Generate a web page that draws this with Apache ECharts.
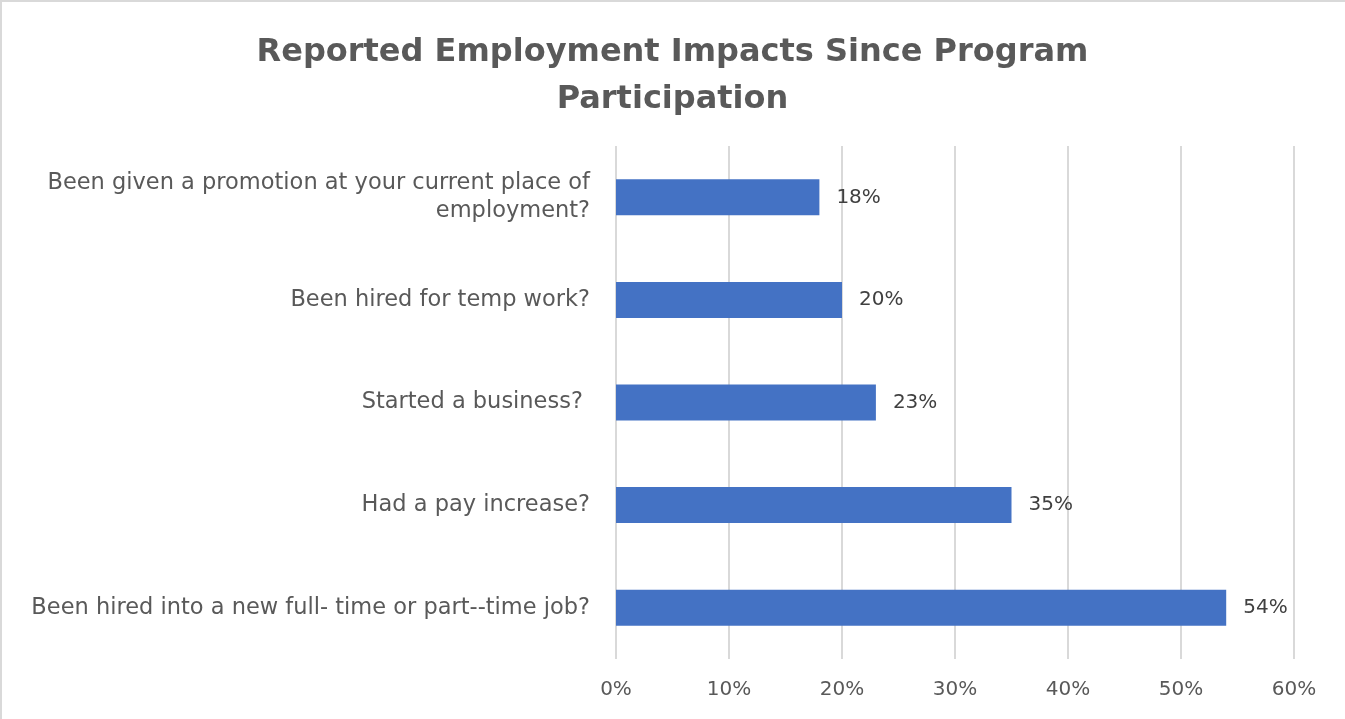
<!DOCTYPE html>
<html>
<head>
<meta charset="utf-8">
<script src="https://cdn.jsdelivr.net/npm/echarts@6/dist/echarts.min.js"></script>
<style>
  html, body { margin: 0; padding: 0; background: #ffffff; }
  #chart { width: 1345px; height: 719px; }
</style>
</head>
<body>
<div id="chart"></div>
<script>
// Survey questions, listed top to bottom
const categories = [
  'Been given a promotion at your current place of\nemployment?',
  'Been hired for temp work?',
  'Started a business? ',
  'Had a pay increase?',
  'Been hired into a new full- time or part--time job?'
];
// Share of respondents answering yes (%)
const shares = [18, 20, 23, 35, 54];
// Horizontal axis ticks (%)
const axisTicks = [0, 10, 20, 30, 40, 50, 60];

const FONT = '"DejaVu Sans", sans-serif';
const chart = echarts.init(document.getElementById('chart'), null, { renderer: 'canvas' });

chart.setOption({
  backgroundColor: '#ffffff',
  animation: false,
  title: {
    text: 'Reported Employment Impacts Since Program\nParticipation',
    left: 'center',
    top: 24,
    textStyle: {
      fontFamily: FONT,
      fontWeight: 'bold',
      fontSize: 32,
      lineHeight: 47,
      color: '#595959'
    }
  },
  graphic: [{
    type: 'rect',
    shape: { x: 1, y: 1, width: 1400, height: 800 },
    style: { fill: 'none', stroke: '#d9d9d9', lineWidth: 2 },
    silent: true
  }],
  grid: { left: 616, right: 51, top: 146, bottom: 60, containLabel: false },
  xAxis: {
    type: 'value',
    min: axisTicks[0],
    max: axisTicks[axisTicks.length - 1],
    interval: axisTicks[1] - axisTicks[0],
    axisLine: { show: false },
    axisTick: { show: false },
    splitLine: { show: true, lineStyle: { color: '#d9d9d9', width: 2 } },
    axisLabel: {
      formatter: v => v + '%',
      fontFamily: FONT,
      fontSize: 20,
      color: '#595959',
      margin: 21
    }
  },
  yAxis: {
    type: 'category',
    data: categories,
    inverse: true,
    axisLine: { show: false },
    axisTick: { show: false },
    splitLine: { show: false },
    axisLabel: {
      fontFamily: FONT,
      fontSize: 22.5,
      lineHeight: 28,
      color: '#595959',
      margin: 26,
      align: 'right'
    }
  },
  series: [{
    type: 'bar',
    data: shares,
    barWidth: 36,
    itemStyle: { color: '#4472C4' },
    label: {
      show: true,
      position: 'right',
      distance: 17,
      formatter: p => p.value + '%',
      fontFamily: FONT,
      fontSize: 20,
      color: '#404040'
    }
  }]
});
</script>
</body>
</html>
